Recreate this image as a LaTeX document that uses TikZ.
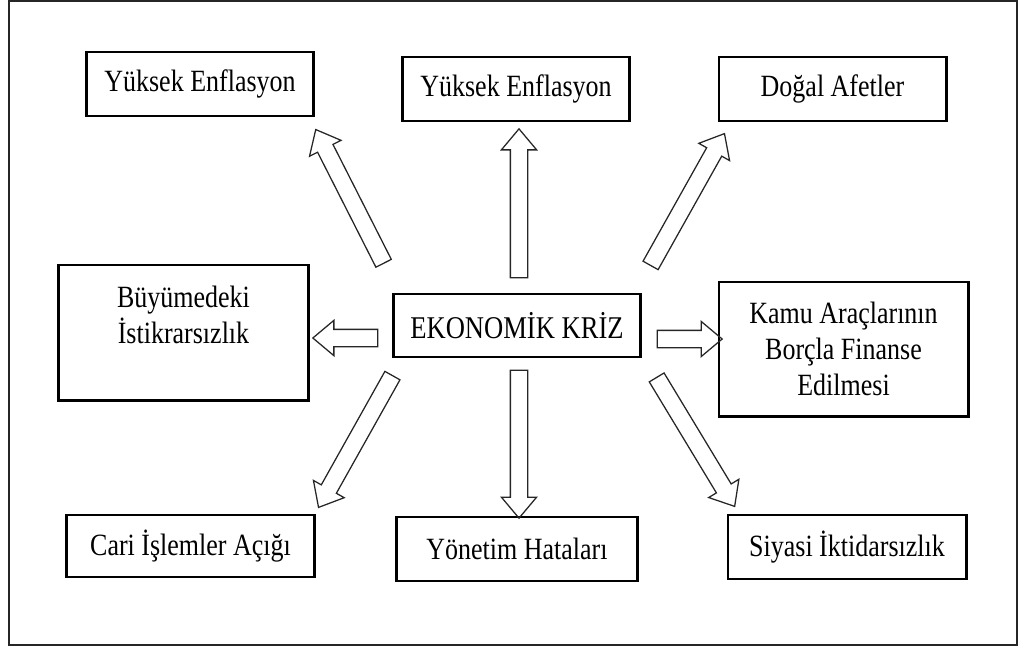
\documentclass[tikz,border=0pt]{standalone}
\usepackage{fontspec}
\setmainfont[FakeStretch=0.84]{Liberation Serif}
\usetikzlibrary{shapes.arrows}
\usetikzlibrary{calc}

%% block arrow between two named coordinates
\newcommand{\blokok}[2]{%
	\path let \p1=($(#2)-(#1)$) in
	node[okblok, minimum height={veclen(\x1,\y1)}, rotate={atan2(\y1,\x1)}]
	at ($(#1)!0.5!(#2)$) {};}

\begin{document}
\begin{tikzpicture}[x=0.025cm, y=-0.025cm,
	kutu/.style={draw, line width=2.1pt, rectangle, align=center,
	inner sep=2pt, font=\fontsize{22}{25.5}\selectfont},
	okblok/.style={draw=black!85, line width=0.9pt, shape=single arrow,
	single arrow tip angle=80, single arrow head extend=0.225cm,
	inner xsep=0pt, inner ysep=0.2cm, minimum width=0.85cm},
	cerceve/.style={draw=black!85, line width=0.8pt}]
	\useasboundingbox (0,0) rectangle (1019,647);
	\draw [cerceve] (9,1) rectangle (1017,645);
	%% top row
	\node [kutu, minimum width=5.65cm, minimum height=1.6cm] (enf1) at (200,84) {Yüksek Enflasyon};
	\node [kutu, minimum width=5.65cm, minimum height=1.6cm] (enf2) at (516,89) {Yüksek Enflasyon};
	\node [kutu, minimum width=5.675cm, minimum height=1.6cm] (afet) at (832.5,89) {Doğal Afetler};
	%% middle row
	\node [kutu, minimum width=6.225cm, minimum height=3.375cm] (buyume) at (183.5,332.5)
	{Büyümedeki\\İstikrarsızlık\\\mbox{}};
	\node [kutu, minimum width=6.15cm, minimum height=1.575cm,
	font=\fontsize{22.5}{25}\selectfont] (kriz) at (517,325.5) {EKONOMİK KRİZ};
	\node [kutu, minimum width=6.225cm, minimum height=3.35cm] (kamu) at (843.5,349)
	{Kamu Araçlarının\\Borçla Finanse\\Edilmesi};
	%% bottom row
	\node [kutu, minimum width=6.175cm, minimum height=1.55cm] (cari) at (190.5,546) {Cari İşlemler Açığı};
	\node [kutu, minimum width=6cm, minimum height=1.6cm] (yonetim) at (517,549) {Yönetim Hataları};
	\node [kutu, minimum width=5.95cm, minimum height=1.6cm] (siyasi) at (847,547) {Siyasi İktidarsızlık};
	%% arrow ends
	\coordinate (o1a) at (386,268);
	\coordinate (o1b) at (318,134);
	\coordinate (o2a) at (519,283);
	\coordinate (o2b) at (519,134);
	\coordinate (o3a) at (648,270);
	\coordinate (o3b) at (722,138);
	\coordinate (o4a) at (383,338);
	\coordinate (o4b) at (318,338);
	\coordinate (o5a) at (652,339);
	\coordinate (o5b) at (717,339);
	\coordinate (o6a) at (395,371);
	\coordinate (o6b) at (321,503);
	\coordinate (o7a) at (519,365);
	\coordinate (o7b) at (519,513);
	\coordinate (o8a) at (654,373);
	\coordinate (o8b) at (732,502);
	%% Arrows
	\blokok{o1a}{o1b}
	\blokok{o2a}{o2b}
	\blokok{o3a}{o3b}
	\blokok{o4a}{o4b}
	\blokok{o5a}{o5b}
	\blokok{o6a}{o6b}
	\blokok{o7a}{o7b}
	\blokok{o8a}{o8b}
\end{tikzpicture}
\end{document}
